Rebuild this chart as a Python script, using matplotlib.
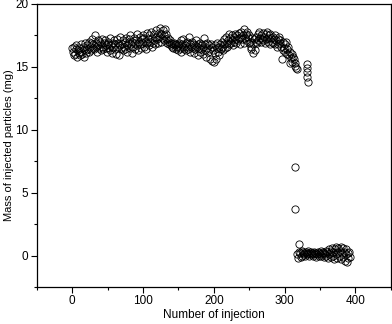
import numpy as np
import matplotlib
matplotlib.use('Agg')
import matplotlib.pyplot as plt

# データ (注入回数 0..317 の質量)
mainMass = [
    16.5, 16.2, 15.9, 16.6, 16.0, 16.4, 16.7, 15.8, 16.3, 16.1,
    16.5, 15.9, 16.8, 16.2, 16.0, 16.6, 16.4, 15.8, 16.9, 16.3,
    16.1, 16.7, 16.4, 17.0, 16.2, 16.6, 16.9, 16.3, 17.2, 16.5,
    16.8, 16.4, 17.5, 16.6, 16.9, 16.2, 17.1, 16.7, 16.5, 17.0,
    16.3, 16.8, 17.2, 16.6, 16.4, 16.9, 17.1, 16.5, 16.7, 16.2,
    16.8, 17.0, 16.5, 16.3, 17.3, 16.7, 16.1, 16.9, 16.6, 17.1,
    16.4, 16.8, 16.0, 17.2, 16.6, 16.9, 15.9, 16.7, 17.4, 16.5,
    16.8, 16.3, 17.1, 16.6, 17.0, 16.4, 17.3, 16.7, 16.2, 16.9,
    17.2, 16.5, 17.5, 16.8, 16.1, 17.0, 16.6, 17.3, 16.4, 16.9,
    17.1, 16.7, 17.6, 16.3, 17.0, 16.8, 17.4, 16.5, 17.2, 16.9,
    17.5, 16.6, 17.3, 17.0, 16.4, 17.7, 16.9, 17.2, 16.7, 17.5,
    17.0, 17.8, 16.6, 17.3, 16.9, 17.6, 17.1, 16.8, 17.4, 17.9,
    17.2, 16.9, 17.7, 17.4, 18.1, 17.0, 17.6, 17.3, 17.9, 17.1,
    17.5, 18.0, 17.2, 17.6, 16.9, 17.3, 17.0, 16.8, 17.1, 16.7,
    16.9, 16.6, 16.8, 16.5, 16.9, 16.7, 16.4, 16.8, 16.6, 16.3,
    16.7, 16.9, 16.5, 17.1, 16.2, 16.8, 16.6, 17.2, 16.4, 16.7,
    16.9, 16.3, 17.0, 16.6, 16.4, 17.4, 16.8, 16.2, 16.6, 17.0,
    16.5, 16.8, 16.1, 16.7, 16.4, 17.1, 16.6, 15.9, 16.8, 16.5,
    16.2, 16.9, 16.4, 16.7, 16.0, 16.6, 17.3, 16.3, 16.8, 15.8,
    16.5, 16.9, 16.2, 16.7, 15.6, 16.4, 16.8, 15.5, 16.6, 16.3,
    15.4, 16.7, 16.1, 15.6, 16.5, 16.9, 16.2, 16.6, 15.9, 16.8,
    16.4, 17.0, 16.6, 16.3, 17.2, 16.8, 16.5, 17.4, 16.9, 16.6,
    17.1, 17.6, 16.8, 17.3, 16.9, 17.5, 17.1, 16.7, 17.4, 17.0,
    17.6, 17.2, 16.9, 17.5, 17.1, 17.7, 17.3, 16.8, 17.4, 17.8,
    17.2, 17.5, 16.9, 18.0, 17.3, 17.6, 17.1, 17.8, 17.4, 16.9,
    17.5, 17.0, 16.4, 16.6, 17.3, 16.1, 16.8, 17.2, 16.3, 17.0,
    17.4, 16.9, 17.6, 17.1, 17.8, 17.3, 17.0, 17.5, 17.2, 17.7,
    17.1, 17.4, 16.9, 17.6, 17.2, 17.8, 17.3, 17.0, 17.5, 16.8,
    17.6, 17.3, 17.0, 17.4, 16.9, 17.2, 17.5, 16.8, 17.1, 16.6,
    17.2, 16.8, 17.4, 16.9, 17.1, 16.6, 15.6, 16.3, 17.0, 16.5,
    16.8, 16.2, 17.0, 16.4, 16.0, 16.6, 15.9, 15.3, 16.2, 15.7,
    16.0, 15.4, 15.8, 15.6, 15.1, 15.3, 14.9, 14.8,
]
mainInj = list(range(0, len(mainMass)))

# 途中のグループ
midInj = [331, 331, 332, 331, 333]
midMass = [15.2, 14.9, 14.6, 14.2, 13.8]

# 急落
dropInj = [314, 315]
dropMass = [7.05, 3.7]

# 低いグループ (注入回数 318..392)
lowMass = [
    0.1, -0.2, 0.3, 0.9, 0.2, -0.1, 0.4, 0.0, 0.3, 0.1,
    0.2, 0.0, 0.3, 0.1, 0.2, 0.4, 0.0, 0.2, 0.1, 0.3,
    0.1, 0.2, 0.0, 0.3, 0.1, 0.2, -0.1, 0.2, 0.1, 0.3,
    0.0, 0.2, 0.1, 0.4, 0.0, 0.2, 0.3, -0.1, 0.2, 0.1,
    0.4, 0.0, 0.3, -0.2, 0.5, 0.1, 0.2, -0.1, 0.4, 0.6,
    0.0, 0.3, -0.3, 0.5, 0.1, 0.7, -0.2, 0.3, 0.6, 0.0,
    0.4, -0.3, 0.7, 0.2, -0.1, 0.6, 0.3, -0.4, 0.1, 0.5,
    -0.5, 0.2, -0.2, 0.3, -0.1,
]
lowInj = list(range(318, 318 + len(lowMass)))

plt.rcParams['font.family'] = ['Liberation Sans', 'DejaVu Sans']

fig = plt.figure(figsize=(3.92, 3.24), dpi=100)
ax = fig.add_axes([0.094, 0.114, 0.903, 0.874])

# 白抜きの丸
style = dict(linestyle='none', marker='o', markersize=5.2, markerfacecolor='none',
             markeredgecolor='black', markeredgewidth=0.6)
ax.plot(mainInj, mainMass, **style)
ax.plot(midInj, midMass, **style)
ax.plot(dropInj, dropMass, **style)
ax.plot(lowInj, lowMass, **style)

ax.set_xlim(-50, 450)
ax.set_ylim(-2.5, 20)
ax.set_xticks([0, 100, 200, 300, 400])
ax.set_xticks(np.arange(-50, 451, 50), minor=True)
ax.set_yticks([0, 5, 10, 15, 20])
ax.set_yticks(np.arange(-2.5, 20.1, 2.5), minor=True)
ax.tick_params(which='both', direction='out', top=False, right=False, labelsize=8.5, width=0.8, pad=2)
ax.tick_params(which='major', length=4)
ax.tick_params(which='minor', length=2.5)
for s in ax.spines.values():
    s.set_linewidth(0.9)

ax.set_xlabel('Number of injection', fontsize=8.5, labelpad=1)
ax.set_ylabel('Mass of injected particles (mg)', fontsize=8, labelpad=1)

plt.savefig('out.png', dpi=100)
